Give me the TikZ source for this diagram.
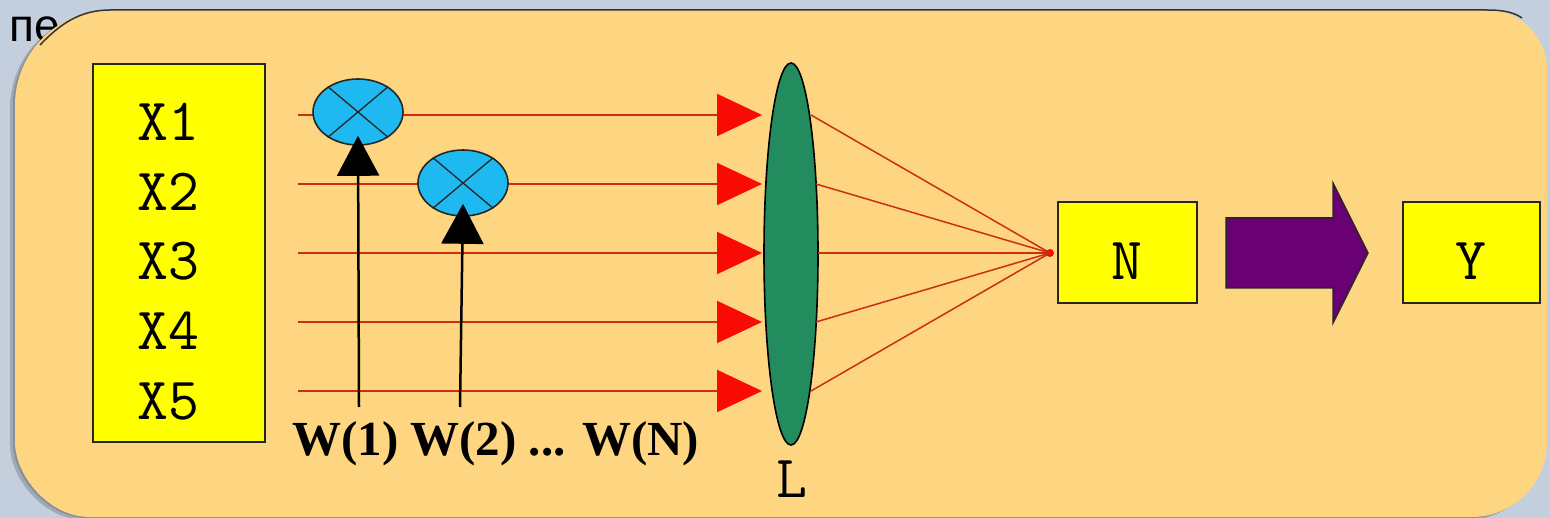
\documentclass[tikz,border=0pt]{standalone}
\usepackage{fontspec}
\setmainfont{Liberation Serif}
\newfontfamily\cyrfont{Liberation Sans}
\usetikzlibrary{shapes.geometric,arrows.meta}
\definecolor{bgblue}{RGB}{196,207,222}
\definecolor{orangebg}{RGB}{254,213,128}
\definecolor{boxyellow}{RGB}{255,255,0}
\definecolor{multcyan}{RGB}{30,185,240}
\definecolor{lensgreen}{RGB}{35,140,95}
\definecolor{wirered}{RGB}{205,45,20}
\definecolor{tipred}{RGB}{250,10,5}
\definecolor{arrowpurple}{RGB}{105,0,115}
\newcommand\panelshape{(15,105) .. controls (15,52.6) and (57.6,10) .. (110,10) -- (1487,10) .. controls (1520.1,10) and (1547,36.9) .. (1547,70) -- (1547,442) .. controls (1547,483.4) and (1513.4,517) .. (1472,517) -- (90,517) .. controls (48.6,517) and (15,475.4) .. (15,442) -- cycle}
\tikzset{
  ybox/.style={draw=black!85, fill=boxyellow, line width=2pt, inner sep=0pt},
  monolab/.style={font=\ttfamily\fontsize{60}{60}\selectfont, inner sep=0pt, anchor=base west},
  wire/.style={draw=wirered, line width=2pt},
  inwire/.style={wire, -{Triangle[length=45pt,width=42pt,color=tipred,fill=tipred]}},
  outwire/.style={draw=wirered, line width=1.5pt},
  mult/.style={ellipse, draw=black!85, line width=1.6pt, fill=multcyan, minimum width=90pt, minimum height=66pt, inner sep=0pt},
  cross/.style={draw=black!85, line width=1.3pt},
  weight/.style={draw=black, line width=2.5pt, -{Triangle[length=40pt,width=42pt]}},
}
\begin{document}
\begin{tikzpicture}[x=1pt,y=-1pt]
\useasboundingbox (0,0) rectangle (1550,518);
\fill[bgblue] (0,0) rectangle (1550,518);
% panel shadow
\begin{scope}[shift={(-5,3)}]
  \fill[black, opacity=0.18] \panelshape;
\end{scope}
\begin{scope}[shift={(-2,1)}]
  \fill[black, opacity=0.15] \panelshape;
\end{scope}
\node[anchor=base west, inner sep=0pt, font=\cyrfont\fontsize{46}{50}\selectfont] (title) at (9,42) {пе};
% panel
\fill[orangebg] \panelshape;
\draw[black!80, line width=1.5pt] (40,45) .. controls (60,24) and (80,10) .. (110,10) -- (1487,10) .. controls (1505,10) and (1515,13) .. (1522,18);

% input box
\node[ybox, minimum width=172pt, minimum height=378pt] (X) at (179,253) {};
\foreach \i/\b in {1/141,2/211,3/280,4/350,5/420}
  \node[monolab] (x\i) at (137,\b) {X\i};

% input wires with red tips
\foreach \i/\y in {1/115,2/184,3/253,4/322,5/391}{
  \coordinate (s\i) at (298,\y);
  \coordinate (t\i) at (762,\y);
  \draw[inwire] (s\i) -- (t\i);
}

% multipliers
\node[mult] (m1) at (358,112) {};
\node[mult] (m2) at (463,183) {};
\foreach \m in {m1,m2}{
  \draw[cross] (\m.40) -- (\m.220);
  \draw[cross] (\m.140) -- (\m.320);
}
% weight arrows
\coordinate (w1) at (359,407);
\coordinate (w2) at (460,407);
\draw[weight] (w1) -- ([yshift=10pt]m1.south);
\draw[weight] (w2) -- ([yshift=13pt]m2.south);
\node[anchor=base west, inner sep=0pt, font=\bfseries\fontsize{49}{52}\selectfont] (wl) at (292,455) {W(1) W(2) ... W(N)};

% lens
\node[ellipse, draw=black, line width=1.6pt, fill=lensgreen, minimum width=54pt, minimum height=382pt, inner sep=0pt] (L) at (791,254) {};
\node[monolab, anchor=base] (Llab) at (792,497) {L};

% convergence
\node[circle, fill=tipred, inner sep=0pt, minimum size=8pt] (c) at (1050,253) {};
\foreach \i/\x/\y in {1/811/115,2/816/184,3/818/253,4/816/322,5/811/391}{
  \coordinate (r\i) at (\x,\y);
  \draw[outwire] (r\i) -- (c.center);
}

% N and Y boxes
\node[ybox, minimum width=139pt, minimum height=101pt] (N) at (1127.5,252.5) {};
\node[monolab, anchor=base] (Nlab) at (1127,280) {N};
\node[ybox, minimum width=137pt, minimum height=101pt] (Y) at (1471.5,253) {};
\node[monolab, anchor=base] (Ylab) at (1471,280) {Y};

% block arrow
\filldraw[fill=arrowpurple, draw=black!85, line width=1.5pt]
  (1226,218) -- (1333,218) -- (1333,183) -- (1368,253) -- (1333,323) -- (1333,288) -- (1226,288) -- cycle;
\end{tikzpicture}
\end{document}
